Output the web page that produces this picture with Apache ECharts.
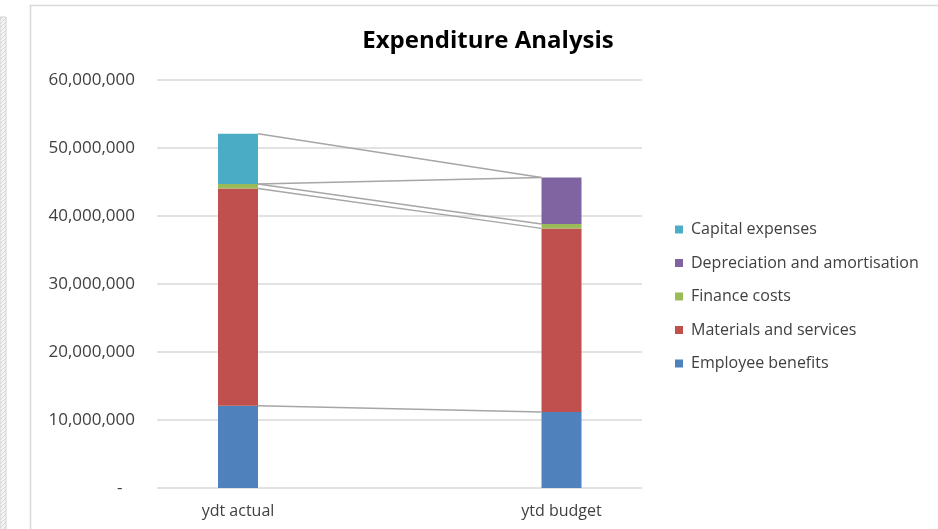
<!DOCTYPE html>
<html>
<head>
<meta charset="utf-8">
<title>Expenditure Analysis</title>
<script src="https://cdn.jsdelivr.net/npm/echarts@6/dist/echarts.min.js"></script>
<style>
  html, body { margin: 0; padding: 0; background: #fff; }
  #chart { width: 938px; height: 529px; }
</style>
</head>
<body>
<div id="chart"></div>
<script>
// Periods compared
const categories = ['ydt actual', 'ytd budget'];

// Expenditure by type (stacked bottom to top)
const employeeBenefits   = [12080000, 11160000];
const materialsServices  = [31970000, 27020000];
const financeCosts       = [  640000,   630000];
const depreciationAmort  = [       0,  6860000];
const capitalExpenses    = [ 7390000,        0];

// Value axis ticks
const axisMin = 0;
const axisMax = 60000000;
const axisStep = 10000000;

const seriesNames = [
  'Employee benefits',
  'Materials and services',
  'Finance costs',
  'Depreciation and amortisation',
  'Capital expenses'
];
const seriesValues = [employeeBenefits, materialsServices, financeCosts, depreciationAmort, capitalExpenses];
const seriesColors = ['#4F81BD', '#C0504D', '#9BBB59', '#8064A2', '#4BACC6'];

const BAR_WIDTH = 40;
const FONT = '"Open Sans", "Noto Sans", sans-serif';

// Running stack tops per period, used for the connecting series lines
const stackTops = [];
{
  const running = categories.map(() => 0);
  seriesValues.forEach(vals => {
    vals.forEach((v, i) => { running[i] += v; });
    stackTops.push(running.slice());
  });
}

// Diagonal hatch used for the neighbouring sheet margin
function hatchPattern() {
  const c = document.createElement('canvas');
  c.width = 4; c.height = 4;
  const g = c.getContext('2d');
  g.fillStyle = '#f4f4f4';
  g.fillRect(0, 0, 4, 4);
  g.strokeStyle = '#d6d6d6';
  g.lineWidth = 1;
  g.beginPath();
  g.moveTo(0, 4); g.lineTo(4, 0);
  g.stroke();
  return c;
}

const chart = echarts.init(document.getElementById('chart'), null, { renderer: 'canvas' });

const barSeries = seriesNames.map((name, k) => ({
  name: name,
  type: 'bar',
  stack: 'total',
  xAxisIndex: 0,
  yAxisIndex: 0,
  barWidth: BAR_WIDTH,
  itemStyle: { color: seriesColors[k] },
  emphasis: { disabled: true },
  data: seriesValues[k]
}));

const seriesLines = {
  type: 'custom',
  xAxisIndex: 0,
  yAxisIndex: 0,
  silent: true,
  z: 3,
  data: stackTops.map(t => [0, t[0]]),
  renderItem: function (params, api) {
    const tops = stackTops[params.dataIndex];
    const a = api.coord([0, tops[0]]);
    const b = api.coord([1, tops[1]]);
    return {
      type: 'line',
      shape: { x1: a[0] + BAR_WIDTH / 2, y1: a[1], x2: b[0] - BAR_WIDTH / 2, y2: b[1] },
      style: { stroke: '#A6A6A6', lineWidth: 1.5 }
    };
  }
};

const option = {
  backgroundColor: '#ffffff',
  animation: false,
  textStyle: { fontFamily: FONT },
  title: {
    text: 'Expenditure Analysis',
    left: 483,
    textAlign: 'center',
    top: 24,
    textStyle: { fontFamily: FONT, fontSize: 24, fontWeight: 'bold', color: '#000000' }
  },
  graphic: [
    {
      type: 'rect',
      silent: true,
      z: -10,
      shape: { x: 0, y: 17, width: 6, height: 520 },
      style: { fill: { image: hatchPattern(), repeat: 'repeat' }, stroke: '#d0d0d0', lineWidth: 1 }
    },
    {
      type: 'rect',
      silent: true,
      z: -10,
      shape: { x: 30.5, y: 5.5, width: 1000, height: 600 },
      style: { fill: '#ffffff', stroke: '#D9D9D9', lineWidth: 1.5 }
    }
  ],
  legend: {
    orient: 'vertical',
    left: 675,
    top: 221,
    padding: 0,
    itemWidth: 8,
    itemHeight: 8,
    itemGap: 16.5,
    icon: 'rect',
    selectedMode: false,
    data: seriesNames.slice().reverse(),
    textStyle: { fontFamily: FONT, fontSize: 16, color: '#404040', lineHeight: 17, padding: [0, 0, 0, 3] }
  },
  grid: [
    // bars: category positions pinned to the bar centres
    { left: 238, right: 376.5, top: 80, bottom: 41 },
    // full-width gridlines and value labels
    { left: 157, right: 296, top: 80, bottom: 41 }
  ],
  xAxis: [
    {
      type: 'category',
      gridIndex: 0,
      data: categories,
      boundaryGap: false,
      axisLine: { show: false },
      axisTick: { show: false },
      splitLine: { show: false },
      axisLabel: { margin: 15, fontSize: 16, color: '#404040', fontFamily: FONT }
    },
    {
      type: 'value',
      gridIndex: 1,
      show: false
    }
  ],
  yAxis: [
    {
      type: 'value',
      gridIndex: 0,
      min: axisMin,
      max: axisMax,
      interval: axisStep,
      show: false
    },
    {
      type: 'value',
      gridIndex: 1,
      min: axisMin,
      max: axisMax,
      interval: axisStep,
      axisLine: { show: false },
      axisTick: { show: false },
      splitLine: { show: true, lineStyle: { color: '#D9D9D9', width: 1.5 } },
      axisLabel: {
        margin: 22,
        fontSize: 17,
        color: '#404040',
        fontFamily: FONT,
        formatter: v => v === 0 ? '-\u2007\u2009' : v.toLocaleString('en-US')
      }
    }
  ],
  series: barSeries.concat([seriesLines])
};

chart.setOption(option);
</script>
</body>
</html>
